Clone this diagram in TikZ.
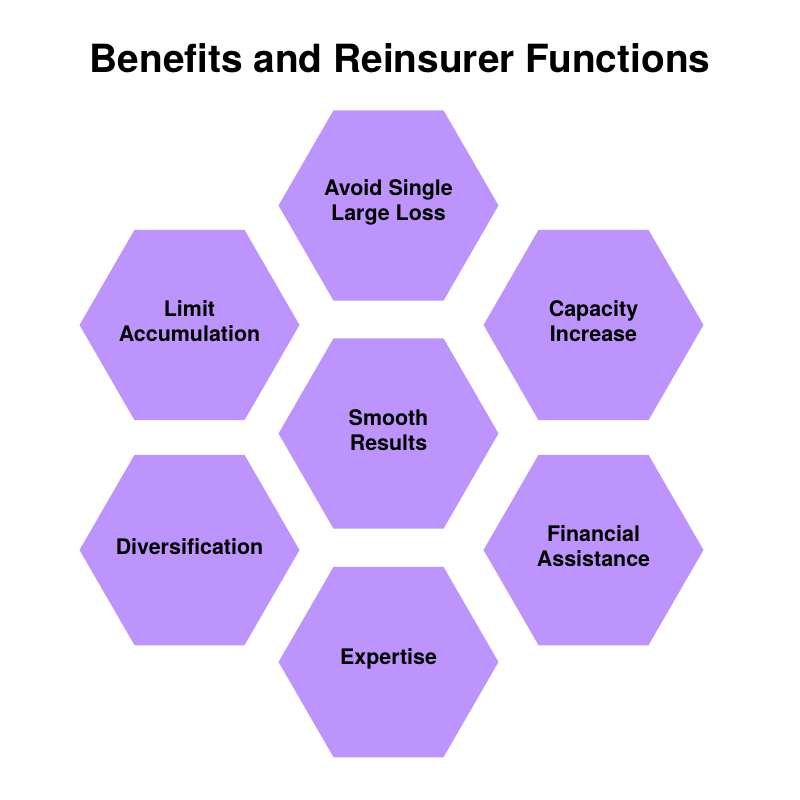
\documentclass[tikz,border=0pt]{standalone}
\usepackage{fontspec}
\setmainfont{TeX Gyre Heros}
\usepackage{tikz}
\usetikzlibrary{shapes.geometric}
\definecolor{hexlila}{RGB}{188,148,252}

\begin{document}
\begin{tikzpicture}[x=0.02cm,y=-0.02cm,
	hexa/.style={regular polygon, regular polygon sides=6, fill=hexlila, minimum size=4.4cm, inner sep=0pt},
	hexatext/.style={align=center, inner sep=0pt, yshift=2pt, font=\fontsize{12.2}{14.2}\selectfont\bfseries}]
	
	\useasboundingbox (0,0) rectangle (800,800);
	
	\node (titel) at (400,73)[anchor=base] {\fontsize{22.1}{26}\selectfont\bfseries Benefits and Reinsurer Functions};
	
	% Waben
	\node[hexa] (loss) at (388.5,205.5) {};
	\node[hexa] (smooth) at (388.5,433.5) {};
	\node[hexa] (expert) at (388.5,662) {};
	\node[hexa] (limit) at (189.5,325) {};
	\node[hexa] (divers) at (189.5,550) {};
	\node[hexa] (capac) at (593.5,325) {};
	\node[hexa] (finanz) at (593.5,550) {};
	
	% Beschriftungen
	\node[hexatext] (losst) at (loss) {Avoid Single\\Large Loss};
	\node[hexatext] (smootht) at (smooth) {Smooth\\Results};
	\node[hexatext] (expertt) at (expert) {Expertise};
	\node[hexatext] (limitt) at (limit) {Limit\\Accumulation};
	\node[hexatext] (diverst) at (divers) {Diversification};
	\node[hexatext] (capact) at (capac) {Capacity\\Increase};
	\node[hexatext] (finanzt) at (finanz) {Financial\\Assistance};
	
\end{tikzpicture}
\end{document}
